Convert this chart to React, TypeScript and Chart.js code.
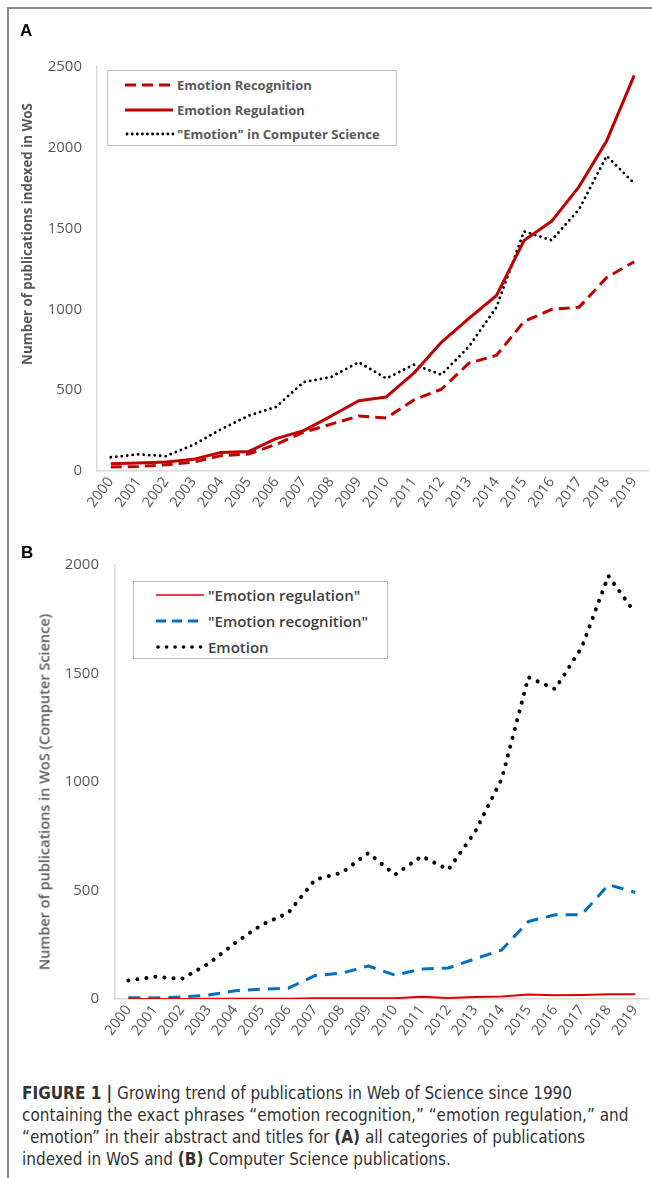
import React, { useEffect, useRef } from "react";
import { Chart, registerables } from "chart.js";

Chart.register(...registerables);

// ---------- data ----------
const years = [
  "2000", "2001", "2002", "2003", "2004", "2005", "2006", "2007", "2008", "2009",
  "2010", "2011", "2012", "2013", "2014", "2015", "2016", "2017", "2018", "2019",
];

// Panel A: all WoS categories
const allRecognition = [25, 28, 38, 55, 95, 105, 165, 240, 290, 340, 328, 440, 506, 667, 716, 925, 1000, 1014, 1197, 1295];
const allRegulation = [45, 50, 55, 72, 115, 120, 200, 250, 340, 435, 458, 605, 796, 944, 1086, 1426, 1545, 1760, 2043, 2448];
// "Emotion" in Computer Science (shown in both panels)
const emotionInCS = [85, 103, 92, 162, 258, 342, 397, 550, 582, 673, 573, 658, 596, 770, 1014, 1483, 1428, 1620, 1950, 1780];

// Panel B: Computer Science
const csRegulation = [0, 0, 0, 1, 1, 1, 1, 3, 3, 3, 4, 10, 5, 9, 11, 21, 17, 19, 22, 22];
const csRecognition = [6, 5, 9, 18, 38, 45, 50, 108, 119, 152, 110, 138, 143, 185, 226, 357, 388, 388, 527, 491];

const yMaxA = 2500;
const yMaxB = 2000;
const yStep = 500;

const legendA = ["Emotion Recognition", "Emotion Regulation", "\"Emotion\" in Computer Science"];
const legendB = ["\"Emotion regulation\"", "\"Emotion recognition\"", "Emotion"];

const axisTitleA = "Number of publications indexed in WoS";
const axisTitleB = "Number of publications in WoS (Computer Science)";

// ---------- styles ----------
const DARK_RED = "#C00000";
const BRIGHT_RED = "#E00000";
const BLUE = "#0070C0";
const BLACK = "#000000";
const TICK = "#595959";
const AXIS = "#d9d9d9";
const FONT = "'Open Sans', 'Noto Sans', sans-serif";

type Cfg = {
  yMax: number;
  yWidth: number;
  xHeight: number;
  tickPad: number;
  padTop: number;
  padRight: number;
};

function makeOptions(c: Cfg): any {
  return {
    responsive: false,
    maintainAspectRatio: false,
    animation: false,
    layout: { padding: { top: c.padTop, right: c.padRight, left: 0, bottom: 0 } },
    plugins: { legend: { display: false }, tooltip: { enabled: false }, title: { display: false } },
    elements: { point: { radius: 0 }, line: { tension: 0, borderJoinStyle: "round" } },
    scales: {
      x: {
        type: "category",
        offset: true,
        grid: { display: false, drawTicks: false },
        border: { display: true, color: AXIS, width: 1.5 },
        ticks: {
          color: TICK,
          font: { family: FONT, size: 14.5 },
          minRotation: 53,
          maxRotation: 53,
          autoSkip: false,
          padding: 3,
        },
        afterFit: (s: any) => {
          s.height = c.xHeight;
        },
      },
      y: {
        type: "linear",
        min: 0,
        max: c.yMax,
        grid: { display: false, drawTicks: false },
        border: { display: true, color: AXIS, width: 1.5 },
        ticks: {
          stepSize: yStep,
          color: TICK,
          font: { family: FONT, size: 15 },
          padding: c.tickPad,
          callback: (v: any) => String(v),
        },
        afterFit: (s: any) => {
          s.width = c.yWidth;
        },
      },
    },
  };
}

function useChart(ref: React.RefObject<HTMLCanvasElement>, build: () => any) {
  useEffect(() => {
    if (!ref.current) return;
    const chart = new Chart(ref.current, build());
    return () => chart.destroy();
  }, []);
}

function LineSample({ kind, color, width }: { kind: string; color: string; width: number }) {
  let dash = "none";
  let cap: any = "butt";
  if (kind === "dash") dash = "11 6";
  if (kind === "dashB") dash = "10 6";
  if (kind === "dot") {
    dash = "0.1 5";
    cap = "round";
  }
  if (kind === "dotB") {
    dash = "0.1 8.4";
    cap = "round";
  }
  return (
    <svg width={50} height={10} style={{ display: "block" }}>
      <line
        x1={kind === "dot" || kind === "dotB" ? 2 : 0}
        y1={5}
        x2={48}
        y2={5}
        stroke={color}
        strokeWidth={width}
        strokeDasharray={dash}
        strokeLinecap={cap}
      />
    </svg>
  );
}

export default function App() {
  const refA = useRef<HTMLCanvasElement>(null);
  const refB = useRef<HTMLCanvasElement>(null);

  useChart(refA, () => ({
    type: "line",
    data: {
      labels: years,
      datasets: [
        {
          label: legendA[0],
          data: allRecognition,
          borderColor: DARK_RED,
          borderWidth: 3,
          borderDash: [11, 6],
          borderCapStyle: "butt",
        },
        {
          label: legendA[1],
          data: allRegulation,
          borderColor: DARK_RED,
          borderWidth: 3,
        },
        {
          label: legendA[2],
          data: emotionInCS,
          borderColor: BLACK,
          borderWidth: 2.8,
          borderDash: [0.1, 5.4],
          borderCapStyle: "round",
        },
      ],
    },
    options: makeOptions({ yMax: yMaxA, yWidth: 97, xHeight: 49, tickPad: 15, padTop: 67, padRight: 4 }),
  }));

  useChart(refB, () => ({
    type: "line",
    data: {
      labels: years,
      datasets: [
        {
          label: legendB[0],
          data: csRegulation,
          borderColor: BRIGHT_RED,
          borderWidth: 2,
        },
        {
          label: legendB[1],
          data: csRecognition,
          borderColor: BLUE,
          borderWidth: 3,
          borderDash: [12, 8],
          borderCapStyle: "butt",
        },
        {
          label: legendB[2],
          data: emotionInCS,
          borderColor: BLACK,
          borderWidth: 4,
          borderDash: [0.1, 9],
          borderCapStyle: "round",
        },
      ],
    },
    options: makeOptions({ yMax: yMaxB, yWidth: 115, xHeight: 61, tickPad: 16, padTop: 45, padRight: 2 }),
  }));

  const abs = (o: any): React.CSSProperties => ({ position: "absolute", ...o });

  return (
    <div style={abs({ left: 0, top: 0, width: 652, height: 1178, background: "#fff", overflow: "hidden" })}>
      {/* frame */}
      <div style={abs({ left: 7, top: 7, width: 660, height: 1200, borderLeft: "2px solid #8a8a8a", borderTop: "2px solid #8a8a8a" })} />

      <canvas ref={refA} width={652} height={520} style={abs({ left: 0, top: 0, width: 652, height: 520 })} />
      <canvas ref={refB} width={652} height={540} style={abs({ left: 0, top: 520, width: 652, height: 540 })} />

      {/* panel letters */}
      <div style={abs({ left: 20, top: 21, font: "bold 17px 'Liberation Sans', Arial, sans-serif", color: "#000" })}>A</div>
      <div style={abs({ left: 21, top: 543, font: "bold 17px 'Liberation Sans', Arial, sans-serif", color: "#000" })}>B</div>

      {/* axis titles */}
      <div
        style={abs({
          left: 27,
          top: 234,
          transform: "translate(-50%, -50%) rotate(-90deg)",
          whiteSpace: "nowrap",
          font: `bold 13.3px ${FONT}`,
          color: TICK,
        })}
      >
        {axisTitleA}
      </div>
      <div
        style={abs({
          left: 44,
          top: 792,
          transform: "translate(-50%, -50%) rotate(-90deg)",
          whiteSpace: "nowrap",
          font: `600 14.5px ${FONT}`,
          color: TICK,
        })}
      >
        {axisTitleB}
      </div>

      {/* legend A */}
      <div style={abs({ left: 107, top: 70, width: 290, height: 76, border: "1px solid #bfbfbf", boxSizing: "border-box", background: "#fff" })}>
        {[
          { kind: "dash", color: DARK_RED, width: 3 },
          { kind: "solid", color: DARK_RED, width: 3 },
          { kind: "dot", color: BLACK, width: 2.8 },
        ].map((s, i) => (
          <div key={i} style={abs({ left: 17, top: 4 + i * 24.5, height: 20, display: "flex", alignItems: "center" })}>
            <LineSample {...s} />
            <span style={{ marginLeft: 2, font: `bold 13px ${FONT}`, color: TICK, whiteSpace: "nowrap" }}>{legendA[i]}</span>
          </div>
        ))}
      </div>

      {/* legend B */}
      <div style={abs({ left: 133, top: 581, width: 255, height: 78, border: "1px solid #bfbfbf", boxSizing: "border-box", background: "#fff" })}>
        {[
          { kind: "solid", color: BRIGHT_RED, width: 1.6 },
          { kind: "dashB", color: BLUE, width: 3 },
          { kind: "dotB", color: BLACK, width: 3.6 },
        ].map((s, i) => (
          <div key={i} style={abs({ left: 22, top: 2 + i * 26, height: 22, display: "flex", alignItems: "center" })}>
            <LineSample {...s} />
            <span style={{ marginLeft: 2, font: `600 15px ${FONT}`, color: "#404040", whiteSpace: "nowrap" }}>{legendB[i]}</span>
          </div>
        ))}
      </div>

      {/* caption */}
      <div
        style={abs({
          left: 22,
          top: 1082,
          width: 626,
          fontFamily: "'Liberation Sans Narrow', 'DejaVu Sans Condensed', 'Liberation Sans', sans-serif",
          fontSize: 17,
          lineHeight: "22px",
          color: "#333",
        })}
      >
        <b>FIGURE 1 |</b> Growing trend of publications in Web of Science since 1990
        <br />
        containing the exact phrases “emotion recognition,” “emotion regulation,” and
        <br />
        “emotion” in their abstract and titles for <b>(A)</b> all categories of publications
        <br />
        indexed in WoS and <b>(B)</b> Computer Science publications.
      </div>
    </div>
  );
}
